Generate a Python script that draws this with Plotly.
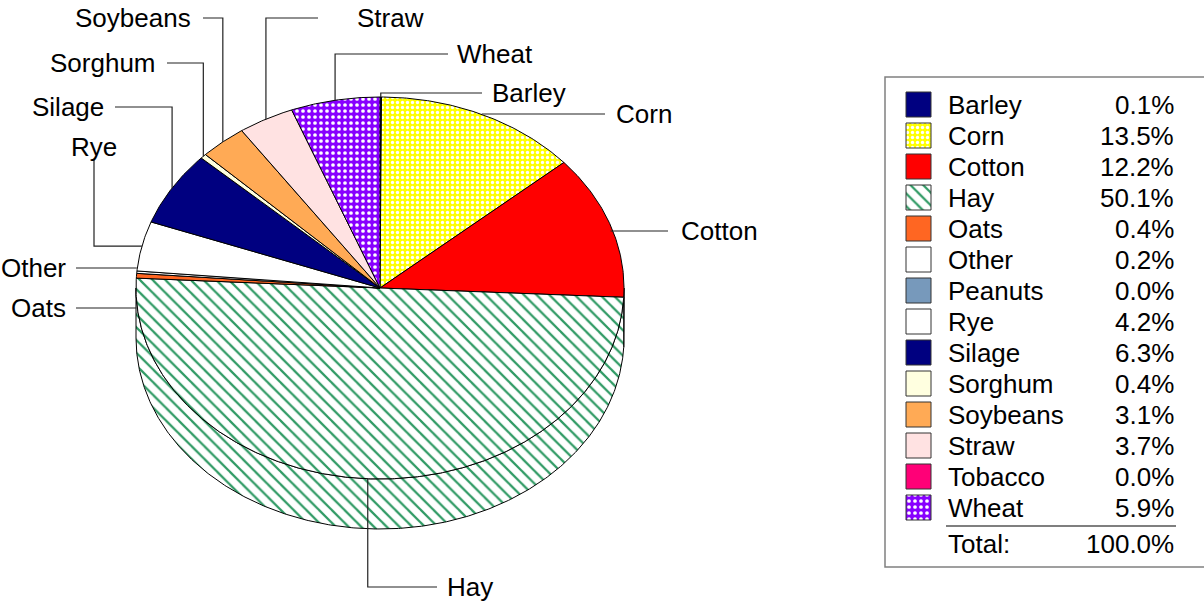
import numpy as np
import plotly.graph_objects as go

# ---------------- data ----------------
crops = ["Barley", "Corn", "Cotton", "Hay", "Oats", "Other", "Peanuts", "Rye",
         "Silage", "Sorghum", "Soybeans", "Straw", "Tobacco", "Wheat"]
shares = [0.1, 13.5, 12.2, 50.1, 0.4, 0.2, 0.0, 4.2, 6.3, 0.4, 3.1, 3.7, 0.0, 5.9]
share_labels = ["0.1%", "13.5%", "12.2%", "50.1%", "0.4%", "0.2%", "0.0%", "4.2%",
                "6.3%", "0.4%", "3.1%", "3.7%", "0.0%", "5.9%"]
total_label = "100.0%"

# ---------------- style ----------------
W, H = 1204, 603
FONT = "Liberation Sans, Arial, sans-serif"
FS = 26
colors = {
    "Barley": "#000080", "Corn": "#ffff00", "Cotton": "#ff0000", "Hay": "#ffffff",
    "Oats": "#ff6622", "Other": "#ffffff", "Peanuts": "#7799bb", "Rye": "#ffffff",
    "Silage": "#000080", "Sorghum": "#ffffe0", "Soybeans": "#ffaa55",
    "Straw": "#ffe2e2", "Tobacco": "#ff0077", "Wheat": "#8800ff",
}
patterns = {
    "Corn": dict(shape=".", fgcolor="#ffffff", bgcolor="#ffff00", size=5, solidity=0.35,
                 fgopacity=1),
    "Hay": dict(shape="\\", fgcolor="#2f9a64", bgcolor="#ffffff", size=9, solidity=0.25,
                fgopacity=1),
    "Wheat": dict(shape=".", fgcolor="#ffffff", bgcolor="#8800ff", size=6, solidity=0.3,
                  fgopacity=1),
}

# pie geometry (pixels)
CX, CY, RX, RY, DEPTH = 380, 288, 244, 191, 50

# label placement: route type, label line end x, y, text x, anchor
label_layout = {
    "Barley":   ("vh", 482, 93, 490, "left"),
    "Corn":     ("h", 605, 114, 614, "left"),
    "Cotton":   ("h", 668, 231, 679, "left"),
    "Hay":      ("vh", 437, 587, 445, "left"),
    "Oats":     ("h", 76, 308, 68, "right"),
    "Other":    ("h", 76, 268, 68, "right"),
    "Rye":      ("hv", 94, 160, 94, "center"),
    "Silage":   ("vh", 115, 107, 106, "right"),
    "Sorghum":  ("vh", 167, 63, 158, "right"),
    "Soybeans": ("vh", 203, 18, 193, "right"),
    "Straw":    ("vh", 318, 18, 355, "left"),
    "Wheat":    ("vh", 448, 54, 455, "left"),
}


def ell(t_deg, dy=0.0):
    t = np.radians(t_deg)
    return CX + RX * np.sin(t), CY - RY * np.cos(t) + dy


def style_kwargs(name):
    kw = dict(fillcolor=colors[name])
    if name in patterns:
        kw["fillpattern"] = patterns[name]
    return kw


tot = sum(shares)
cum = np.concatenate([[0], np.cumsum(shares)]) / tot * 360.0

fig = go.Figure()

# side (front half) of the cylinder
for i, name in enumerate(crops):
    a0, a1 = cum[i], cum[i + 1]
    s0, s1 = max(a0, 90.0), min(a1, 270.0)
    if s1 <= s0:
        continue
    ts = np.linspace(s0, s1, max(3, int((s1 - s0) / 0.5) + 2))
    xt, yt = ell(ts)
    xb, yb = ell(ts[::-1], DEPTH)
    xs = np.concatenate([xt, xb, xt[:1]])
    ys = np.concatenate([yt, yb, yt[:1]])
    fig.add_trace(go.Scatter(x=xs, y=ys, mode="lines", fill="toself",
                             line=dict(color="#000000", width=1),
                             hoverinfo="skip", showlegend=False, **style_kwargs(name)))

# top face slices
for i, name in enumerate(crops):
    a0, a1 = cum[i], cum[i + 1]
    if a1 - a0 <= 0:
        continue
    ts = np.linspace(a0, a1, max(3, int((a1 - a0) / 0.5) + 2))
    xe, ye = ell(ts)
    xs = np.concatenate([[CX], xe, [CX]])
    ys = np.concatenate([[CY], ye, [CY]])
    fig.add_trace(go.Scatter(x=xs, y=ys, mode="lines", fill="toself",
                             line=dict(color="#000000", width=1),
                             hoverinfo="skip", showlegend=False, **style_kwargs(name)))

annotations = []
# leader lines + labels
for i, name in enumerate(crops):
    if shares[i] <= 0 or name not in label_layout:
        continue
    route, lx, ly, tx, anchor = label_layout[name]
    mid = (cum[i] + cum[i + 1]) / 2
    ax, ay = ell(mid)
    if route == "vh":
        px, py = [ax, ax, lx], [ay, ly, ly]
    elif route == "h":
        px, py = [ax, lx], [ly, ly]
    else:  # "hv"
        px, py = [ax, lx, lx], [ay, ay, ly]
    fig.add_trace(go.Scatter(x=px, y=py, mode="lines", line=dict(color="#222222", width=1.2),
                             hoverinfo="skip", showlegend=False))
    ty = ly if route != "hv" else ly - 13
    annotations.append(dict(x=tx, y=ty, xref="x", yref="y", text=name, showarrow=False,
                            xanchor=anchor, yanchor="middle",
                            font=dict(family=FONT, size=FS, color="#000000")))

# legend table
LEG_TOP, PITCH = 104.5, 31
SW_X0, SW_X1, SW = 906, 931, 25
for i, name in enumerate(crops):
    cy = LEG_TOP + i * PITCH
    xs = [SW_X0, SW_X1, SW_X1, SW_X0, SW_X0]
    ys = [cy - SW / 2, cy - SW / 2, cy + SW / 2, cy + SW / 2, cy - SW / 2]
    fig.add_trace(go.Scatter(x=xs, y=ys, mode="lines", fill="toself",
                             line=dict(color="#333333", width=1),
                             hoverinfo="skip", showlegend=False, **style_kwargs(name)))
    annotations.append(dict(x=946, y=cy, xref="x", yref="y", text=name, showarrow=False,
                            xanchor="left", yanchor="middle",
                            font=dict(family=FONT, size=FS, color="#000000")))
    annotations.append(dict(x=1176, y=cy, xref="x", yref="y", text=share_labels[i],
                            showarrow=False, xanchor="right", yanchor="middle",
                            font=dict(family=FONT, size=FS, color="#000000")))

total_y = LEG_TOP + len(crops) * PITCH + 5
annotations.append(dict(x=946, y=total_y, xref="x", yref="y", text="Total:", showarrow=False,
                        xanchor="left", yanchor="middle",
                        font=dict(family=FONT, size=FS, color="#000000")))
annotations.append(dict(x=1176, y=total_y, xref="x", yref="y", text=total_label,
                        showarrow=False, xanchor="right", yanchor="middle",
                        font=dict(family=FONT, size=FS, color="#000000")))

shapes = [
    dict(type="rect", xref="x", yref="y", x0=885, y0=77, x1=1212, y1=567,
         line=dict(color="#808080", width=1.5), fillcolor="rgba(0,0,0,0)", layer="below"),
    dict(type="line", xref="x", yref="y", x0=946, y0=526, x1=1176, y1=526,
         line=dict(color="#000000", width=1.2)),
]

fig.update_layout(
    width=W, height=H, autosize=False,
    margin=dict(l=0, r=0, t=0, b=0, pad=0),
    paper_bgcolor="white", plot_bgcolor="white",
    xaxis=dict(range=[0, W], visible=False, fixedrange=True),
    yaxis=dict(range=[H, 0], visible=False, fixedrange=True),
    annotations=annotations, shapes=shapes, showlegend=False,
)

fig.write_html("out.html", config={"displayModeBar": False},
               post_script="document.body.style.margin='0';document.body.style.overflow='hidden';")
